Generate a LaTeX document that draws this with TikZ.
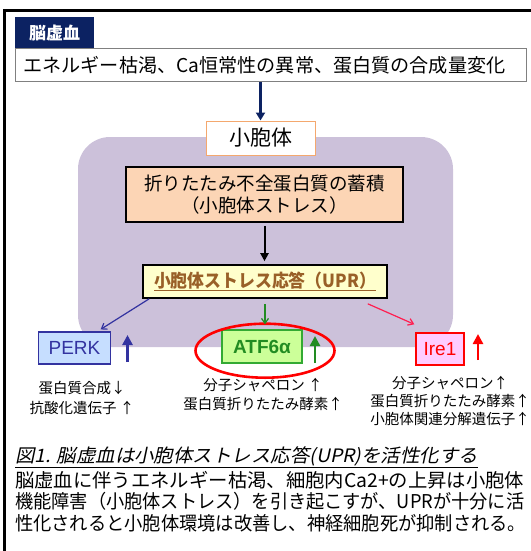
\documentclass[tikz,border=0pt]{standalone}
\usepackage{graphicx}
\usepackage{fontspec}
\setmainfont{Noto Sans CJK JP}
\newfontfamily\arialf{Liberation Sans}
\newfontfamily\jpit{Noto Sans CJK JP}[FakeSlant=0.2]
\usetikzlibrary{arrows.meta,shapes.geometric}
\definecolor{navyc}{RGB}{12,34,98}
\definecolor{grayb}{RGB}{128,128,128}
\definecolor{lav}{RGB}{204,193,218}
\definecolor{orb}{RGB}{244,168,110}
\definecolor{peach}{RGB}{252,213,181}
\definecolor{lyel}{RGB}{255,255,204}
\definecolor{brownt}{RGB}{153,96,40}
\definecolor{perkb}{RGB}{51,51,160}
\definecolor{perkf}{RGB}{198,222,255}
\definecolor{grnb}{RGB}{51,170,51}
\definecolor{grnf}{RGB}{204,255,153}
\definecolor{grnt}{RGB}{34,140,34}
\definecolor{redc}{RGB}{255,0,0}
\definecolor{iref}{RGB}{255,204,255}
\definecolor{redl}{RGB}{255,30,80}
\newcommand{\fitline}[2]{\resizebox{#1}{\height}{#2}}
\begin{document}
\begin{tikzpicture}[x=1pt,y=-1pt,
  boxn/.style={inner sep=0pt},
  upar/.style={line width=2.6pt,-{Triangle[width=10pt,length=10pt]}},
  thinar/.style={line width=1.2pt,-{Straight Barb[length=5pt,width=7pt]}},
  listtxt/.style={inner sep=0pt,align=center,font=\fontsize{14.5}{19}\selectfont}]
\useasboundingbox (0,0) rectangle (530,551);
% frame
\draw[line width=3pt] (4.5,552) |- (532,10.5);
% title and cause
\node[boxn,fill=navyc,text=white,anchor=north west,minimum width=79pt,minimum height=31pt,
  font=\fontsize{17}{17}\selectfont\bfseries] (ttl) at (15,17) {脳虚血};
\node[draw=grayb,line width=0.8pt,fill=white,anchor=north west,minimum height=33pt,
  text width=495pt,inner xsep=8pt,inner ysep=0pt,align=left,
  font=\fontsize{19}{19}\selectfont] (cause) at (15,48) {\fitline{482pt}{エネルギー枯渇、Ca恒常性の異常、蛋白質の合成量変化}};
% ER background
\node[boxn,fill=lav,rounded corners=32pt,minimum width=375pt,minimum height=210pt] (erbg) at (265.5,242) {};
\node[boxn,draw=orb,line width=1pt,fill=white,minimum width=109pt,minimum height=34pt,
  font=\fontsize{21}{21}\selectfont] (er) at (260.5,138) {小胞体};
\draw[navyc,line width=2.6pt,-{Triangle[width=9pt,length=8pt]}] (cause.south -| er.north) -- (er.north);
% misfold
\node[boxn,draw,line width=1.6pt,fill=peach,minimum width=277pt,minimum height=55pt,align=center,
  font=\fontsize{18.5}{22}\selectfont] (mis) at (264.5,194.5) {折りたたみ不全蛋白質の蓄積\\（小胞体ストレス）};
\node[boxn,draw,line width=1.6pt,fill=lyel,minimum width=244pt,minimum height=33pt,text=brownt,
  font=\fontsize{18}{18}\selectfont\bfseries] (upr) at (265,281.5) {\underline{\fitline{222pt}{小胞体ストレス応答（UPR）}}};
\draw[line width=2pt,-{Triangle[width=8pt,length=8pt]},shorten <=3pt,shorten >=3pt] (mis.south) -- (mis.south |- upr.north);
% branches
\node[boxn,draw=perkb,line width=1.2pt,fill=perkf,text=perkb,minimum width=72pt,minimum height=32pt,
  font=\arialf\fontsize{19}{19}\selectfont] (perk) at (74.5,348) {PERK};
\node[boxn,draw=grnb,line width=1.2pt,fill=grnf,text=grnt,minimum width=80pt,minimum height=33pt,
  font=\arialf\bfseries\fontsize{19}{19}\selectfont] (atf) at (262,346.5) {ATF6α};
\node[boxn,draw=redc,line width=1.4pt,fill=iref,text=redc,minimum width=48pt,minimum height=32pt,
  font=\arialf\fontsize{19}{19}\selectfont] (ire) at (440,349) {Ire1};
\node[ellipse,draw=redc,line width=2.6pt,minimum width=139pt,minimum height=54pt,inner sep=0pt] (ell) at (265,350.7) {};
\draw[perkb,thinar] ([xshift=7pt]upr.south west) -- ([xshift=-10.5pt,yshift=2pt]perk.north east);
\draw[grnt,thinar,shorten <=5pt,shorten >=5pt] (upr.south) -- (upr.south |- atf.north);
\draw[redl,thinar] ([xshift=-20pt,yshift=-5pt]upr.south east) -- ([xshift=-1pt,yshift=8pt]ire.north west);
% up arrows
\coordinate (pb1) at (127.5,362); \coordinate (pb2) at (127.5,335);
\coordinate (gb1) at (315,363);   \coordinate (gb2) at (315,336);
\coordinate (rb1) at (478,360);   \coordinate (rb2) at (478,334);
\draw[perkb,upar] (pb1) -- (pb2);
\draw[grnt,upar] (gb1) -- (gb2);
\draw[redc,upar] (rb1) -- (rb2);
% lists
\node[listtxt,font=\fontsize{14.5}{20}\selectfont] (perkl) at (82,398) {蛋白質合成↓\\抗酸化遺伝子 ↑};
\node[listtxt] (atfl) at (263,395) {分子シャペロン ↑\\蛋白質折りたたみ酵素↑};
\node[listtxt,font=\fontsize{14.5}{18}\selectfont] (irel) at (450,401) {分子シャペロン↑\\蛋白質折りたたみ酵素↑\\小胞体関連分解遺伝子↑};
% caption
\node[inner sep=0pt,anchor=west,font=\jpit\fontsize{18.5}{18.5}\selectfont] (cap) at (15,457) {\underline{\fitline{463pt}{図1. 脳虚血は小胞体ストレス応答(UPR)を活性化する}}};
\node[inner sep=0pt,anchor=west,align=left,font=\fontsize{19}{21.5}\selectfont] (body) at (15,501.5)
  {\fitline{509pt}{脳虚血に伴うエネルギー枯渇、細胞内Ca2+の上昇は小胞体}\\
   \fitline{509pt}{機能障害（小胞体ストレス）を引き起こすが、UPRが十分に活}\\
   \fitline{511pt}{性化されると小胞体環境は改善し、神経細胞死が抑制される。}};
\end{tikzpicture}
\end{document}
